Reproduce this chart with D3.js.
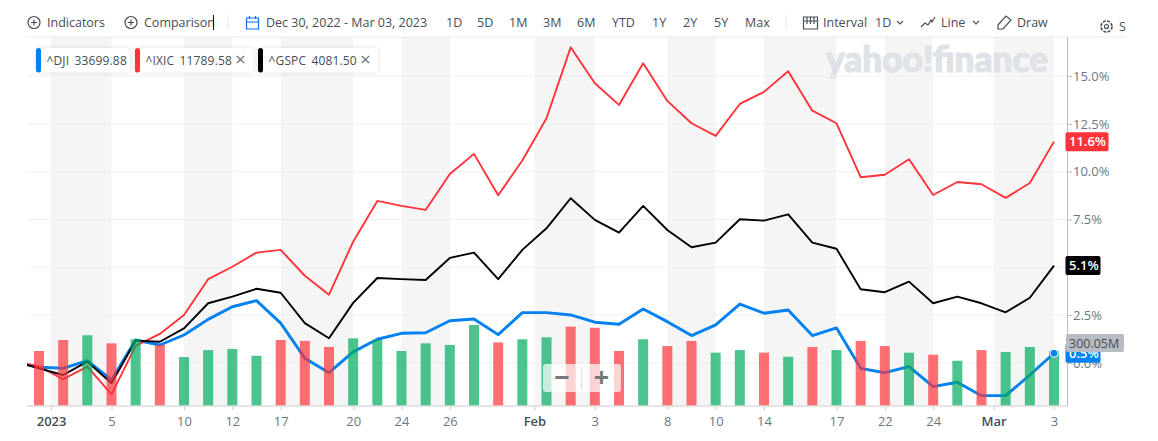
<!DOCTYPE html>
<html>
<head>
<meta charset="utf-8">
<script src="https://cdn.jsdelivr.net/npm/d3@7.9.0/dist/d3.min.js"></script>
<style>
  html, body { margin: 0; background: #fff; overflow: hidden; }
  svg { display: block; font-family: "Open Sans", "Noto Sans", sans-serif; }
  .tool { font-size: 12.5px; fill: #464e56; }
  .icon { fill: none; stroke: #464e56; stroke-width: 1.2; }
</style>
</head>
<body>
<svg id="chart" width="1158" height="441"></svg>
<script>
// first session (Dec 29) is only there so the lines run in from the left edge
const dates = ['2022-12-29', '2022-12-30',
  '2023-01-03', '2023-01-04', '2023-01-05', '2023-01-06', '2023-01-09', '2023-01-10', '2023-01-11', '2023-01-12', '2023-01-13',
  '2023-01-17', '2023-01-18', '2023-01-19', '2023-01-20', '2023-01-23', '2023-01-24', '2023-01-25', '2023-01-26', '2023-01-27',
  '2023-01-30', '2023-01-31', '2023-02-01', '2023-02-02', '2023-02-03', '2023-02-06', '2023-02-07', '2023-02-08', '2023-02-09',
  '2023-02-10', '2023-02-13', '2023-02-14', '2023-02-15', '2023-02-16', '2023-02-17', '2023-02-21', '2023-02-22', '2023-02-23',
  '2023-02-24', '2023-02-27', '2023-02-28', '2023-03-01', '2023-03-02', '2023-03-03'];

const dji = [0.05, -0.22, -0.28, 0.12, -0.89, 1.20, 0.94, 1.46, 2.28, 2.94, 3.26, 2.08, 0.25, -0.51, 0.58, 1.24, 1.55, 1.58,
  2.21, 2.30, 1.48, 2.63, 2.63, 2.51, 2.13, 2.02, 2.82, 2.16, 1.43, 1.99, 3.08, 2.60, 2.77, 1.43, 1.83, -0.28, -0.51, -0.19,
  -1.24, -1.01, -1.71, -1.71, -0.63, 0.51];
const ixic = [0.08, -0.18, -0.85, -0.19, -1.64, 0.89, 1.52, 2.51, 4.38, 5.03, 5.77, 5.91, 4.56, 3.57, 6.34, 8.47, 8.21, 8.00,
  9.88, 10.93, 8.77, 10.58, 12.79, 16.50, 14.62, 13.49, 15.67, 13.70, 12.53, 11.87, 13.54, 14.17, 15.25, 13.19, 12.53, 9.71,
  9.84, 10.65, 8.78, 9.46, 9.34, 8.63, 9.41, 11.57];
const gspc = [0.07, -0.28, -0.63, 0.07, -1.06, 1.17, 1.11, 1.81, 3.12, 3.47, 3.88, 3.67, 2.08, 1.29, 3.14, 4.44, 4.38, 4.34,
  5.49, 5.77, 4.38, 5.91, 7.04, 8.61, 7.48, 6.81, 8.21, 6.95, 6.05, 6.29, 7.51, 7.44, 7.77, 6.29, 5.97, 3.85, 3.70, 4.25,
  3.12, 3.47, 3.12, 2.65, 3.41, 5.09];

// volume in millions, null where no bar is shown
const volume = [null, 300, 360, 386, 342, 364, 333, 267, 305, 311, 274, 360, 355, 322, 369, 360, 300, 342, 333, 442, 347, 364,
  375, 433, 427, 300, 364, 327, 355, 291, 305, 291, 269, 322, 305, 355, 327, 291, 280, 247, 305, 295, 322, 300.05];
const volumeDown = [0, 1, 1, 0, 1, 0, 1, 0, 0, 0, 0, 1, 1, 1, 0, 0, 0, 0, 0, 0, 1, 0, 0, 1, 1, 1, 0, 1, 1, 0, 0, 1, 0, 1, 0, 1,
  1, 0, 1, 0, 1, 0, 0, 0];

const tickLabels = ['2023', '5', '10', '12', '17', '20', '24', '26', 'Feb', '3', '8', '10', '14', '17', '22', '24', 'Mar', '3'];
const tickDates = ['2023-01-03', '2023-01-05', '2023-01-10', '2023-01-12', '2023-01-17', '2023-01-20', '2023-01-24', '2023-01-26',
  '2023-02-01', '2023-02-03', '2023-02-08', '2023-02-10', '2023-02-14', '2023-02-17', '2023-02-22', '2023-02-24', '2023-03-01', '2023-03-03'];
const majorTicks = ['2023', 'Feb', 'Mar'];
const yTicks = [0, 2.5, 5, 7.5, 10, 12.5, 15];

const chips = [
  { name: '^DJI', value: '33699.88', color: '#0081f2', x: 36, w: 94, close: false },
  { name: '^IXIC', value: '11789.58', color: '#ff333a', x: 135, w: 118, close: true },
  { name: '^GSPC', value: '4081.50', color: '#000', x: 258, w: 120, close: true },
];

const toolItems = [
  ['Indicators', 47], ['Comparison', 144], ['Dec 30, 2022 - Mar 03, 2023', 266], ['1D', 446], ['5D', 477], ['1M', 509], ['3M', 543],
  ['6M', 577], ['YTD', 612], ['1Y', 652], ['2Y', 683], ['5Y', 714], ['Max', 745], ['Interval', 823], ['1D', 875], ['Line', 941], ['Draw', 1017],
];

const plotLeft = 27, plotRight = 1067, plotTop = 37, plotBottom = 406;

const svg = d3.select('#chart');
const x = d3.scaleLinear().domain([0, dates.length - 1]).range([14.83, 1054]);
const y = d3.scaleLinear().domain([-2.25, 17.04]).range([plotBottom, plotTop]);
const yVol = d3.scaleLinear().domain([0, 300.05]).range([plotBottom, 351]);

// month and year ticks sit between two sessions
const tickIndex = tickLabels.map((label, i) => dates.indexOf(tickDates[i]) - (majorTicks.includes(label) ? 0.5 : 0));

svg.append('defs').append('clipPath').attr('id', 'plot')
  .append('rect').attr('x', plotLeft).attr('y', plotTop).attr('width', plotRight - plotLeft).attr('height', plotBottom - plotTop);

// alternating bands between tick pairs
svg.append('g').selectAll('rect')
  .data(d3.range(0, tickIndex.length, 2))
  .join('rect')
  .attr('x', (i) => x(tickIndex[i]))
  .attr('y', plotTop)
  .attr('width', (i) => x(tickIndex[i + 1]) - x(tickIndex[i]))
  .attr('height', plotBottom - plotTop)
  .attr('fill', '#f5f5f5');

// watermark
svg.append('text')
  .attr('x', 826).attr('y', 72)
  .attr('textLength', 222).attr('lengthAdjust', 'spacingAndGlyphs')
  .attr('font-family', 'Lato, "Open Sans", sans-serif')
  .attr('font-weight', 900).attr('font-size', 36)
  .attr('fill', '#dfe2e6').attr('stroke', '#dfe2e6').attr('stroke-width', 1.2)
  .text('yahoo!finance');

svg.append('g').selectAll('line')
  .data(yTicks)
  .join('line')
  .attr('x1', plotLeft).attr('x2', plotRight)
  .attr('y1', (d) => y(d)).attr('y2', (d) => y(d))
  .attr('stroke', '#f0f0f0');

svg.append('line').attr('x1', 27).attr('x2', 1126).attr('y1', plotTop).attr('y2', plotTop).attr('stroke', '#e8eaed');

const lineGen = d3.line().x((d, i) => x(i)).y((d) => y(d));
const lines = svg.append('g').attr('clip-path', 'url(#plot)').attr('fill', 'none').attr('stroke-linejoin', 'round');
lines.append('path').datum(dji).attr('d', lineGen).attr('stroke', '#0081f2').attr('stroke-width', 2.9);
lines.append('path').datum(ixic).attr('d', lineGen).attr('stroke', '#ff333a').attr('stroke-width', 1.9);
lines.append('path').datum(gspc).attr('d', lineGen).attr('stroke', '#000').attr('stroke-width', 1.9);

// volume sits on top of the lines
const barData = volume.map((v, i) => ({ v, i })).filter((d) => d.v !== null);
svg.append('g').selectAll('rect')
  .data(barData)
  .join('rect')
  .attr('x', (d) => x(d.i) - 5)
  .attr('y', (d) => yVol(d.v))
  .attr('width', 10)
  .attr('height', (d) => plotBottom - yVol(d.v))
  .attr('fill', (d) => (volumeDown[d.i] ? '#ff333a' : '#00ab5e'))
  .attr('opacity', 0.7);

// axes
const xAxis = svg.append('g')
  .attr('transform', `translate(0,${plotBottom})`)
  .call(d3.axisBottom(x).tickValues(tickIndex).tickSize(4).tickPadding(7)
    .tickFormat((d) => tickLabels[tickIndex.indexOf(d)]));
xAxis.select('.domain').remove();
xAxis.selectAll('line').attr('stroke', '#c8ccd1');
xAxis.selectAll('text')
  .attr('font-size', 13)
  .attr('font-family', '"Open Sans", sans-serif')
  .attr('fill', (d) => (majorTicks.includes(tickLabels[tickIndex.indexOf(d)]) ? '#464e56' : '#6e7780'))
  .attr('font-weight', (d) => (majorTicks.includes(tickLabels[tickIndex.indexOf(d)]) ? 600 : 400));
svg.append('line').attr('x1', plotLeft).attr('x2', plotRight).attr('y1', plotBottom).attr('y2', plotBottom).attr('stroke', '#dcdcdc').attr('stroke-width', 1.5);

// the 5.0% label is covered by the ^GSPC value label in the reference
const yAxis = svg.append('g')
  .attr('transform', `translate(${plotRight},0)`)
  .call(d3.axisRight(y).tickValues(yTicks).tickSize(5).tickPadding(1).tickSizeOuter(0)
    .tickFormat((d) => (d === 5 ? '' : d.toFixed(1) + '%')));
yAxis.select('.domain').attr('stroke', '#bdbdbd');
yAxis.selectAll('line').attr('stroke', '#bdbdbd');
yAxis.selectAll('text').attr('font-size', 13).attr('font-family', '"Open Sans", sans-serif').attr('fill', '#6e7780');

// last value labels
function valueLabel(value, w, fill, textFill, text) {
  const cy = y(value);
  svg.append('rect').attr('x', 1065.5).attr('y', cy - 9.5).attr('width', w).attr('height', 19).attr('rx', 2).attr('fill', fill);
  svg.append('text').attr('x', 1069).attr('y', cy + 4.5).attr('font-size', 13).attr('font-weight', 600).attr('fill', textFill).text(text);
}
valueLabel(ixic[ixic.length - 1], 43, '#ff333a', '#fff', '11.6%');
valueLabel(gspc[gspc.length - 1], 35, '#000', '#fff', '5.1%');
valueLabel(dji[dji.length - 1], 35, '#0081f2', '#fff', '0.5%');

svg.append('rect').attr('x', 1066).attr('y', 334).attr('width', 58).attr('height', 18).attr('rx', 2).attr('fill', '#b7bbc2');
svg.append('text').attr('x', 1069).attr('y', 348).attr('font-size', 12.5).attr('fill', '#464e56').text('300.05M');

svg.append('circle')
  .attr('cx', x(dates.length - 1)).attr('cy', y(dji[dji.length - 1])).attr('r', 4)
  .attr('fill', '#0081f2').attr('stroke', '#fff');

// zoom control
const zoomBox = svg.append('g');
zoomBox.append('rect').attr('x', 543).attr('y', 364).attr('width', 78).attr('height', 28).attr('rx', 3).attr('fill', '#fff').attr('opacity', 0.7);
zoomBox.append('line').attr('x1', 581.5).attr('x2', 581.5).attr('y1', 367).attr('y2', 389).attr('stroke', '#ddd');
zoomBox.selectAll('text')
  .data([['\u2212', 562], ['+', 601.5]])
  .join('text')
  .attr('x', (d) => d[1]).attr('y', 387)
  .attr('text-anchor', 'middle')
  .attr('font-size', 27).attr('font-weight', 700).attr('fill', '#77797c')
  .text((d) => d[0]);

// comparison chips
const chip = svg.append('g').selectAll('g').data(chips).join('g').attr('transform', (d) => `translate(${d.x},48)`);
chip.append('rect').attr('width', (d) => d.w).attr('height', 24.5).attr('rx', 3).attr('fill', '#fff')
  .style('filter', 'drop-shadow(0 0 2px rgba(0,0,0,0.12))');
chip.append('rect').attr('width', 5).attr('height', 24.5).attr('rx', 2.5).attr('fill', (d) => d.color);
chip.append('text').attr('x', 10.5).attr('y', 16.5).attr('font-size', 12).attr('word-spacing', 2)
  .attr('letter-spacing', 0.15).attr('fill', '#464e56').text((d) => `${d.name} ${d.value}`);
chip.filter((d) => d.close).append('text')
  .attr('x', (d) => d.w - 18).attr('y', 18).attr('font-size', 19).attr('fill', '#6e7780').text('\u00d7');

// toolbar
const bar = svg.append('g');
bar.selectAll('text').data(toolItems).join('text').attr('class', 'tool').attr('x', (d) => d[1]).attr('y', 27).text((d) => d[0]);

function plusCircle(cx) {
  bar.append('circle').attr('class', 'icon').attr('cx', cx).attr('cy', 22.5).attr('r', 6);
  bar.append('path').attr('class', 'icon').attr('d', `M${cx - 3},22.5h6M${cx},19.5v6`);
}
plusCircle(34);
plusCircle(131);
bar.append('line').attr('x1', 213.5).attr('x2', 213.5).attr('y1', 15).attr('y2', 30).attr('stroke', '#111');
bar.append('line').attr('x1', 228).attr('x2', 228).attr('y1', 15).attr('y2', 30).attr('stroke', '#e6e8eb');
bar.append('line').attr('x1', 786).attr('x2', 786).attr('y1', 15).attr('y2', 30).attr('stroke', '#e6e8eb');
bar.append('path').attr('class', 'icon').style('stroke', '#0f69ff')
  .attr('d', 'M246.5,18h12v11h-12zM246.5,22h12M249.5,16v3M255.5,16v3');
bar.append('path').attr('class', 'icon').attr('d', 'M803.5,17h14v12h-14zM803.5,21h14M807,17v7M810.5,17v7M814,17v7');
bar.append('path').attr('class', 'icon').attr('d', 'M921,27l4,-4l3,2l3,-5l1,2l3,-5');
bar.append('path').attr('class', 'icon').attr('d', 'M897,21l3,3l3,-3M973,21l3,3l3,-3');
bar.append('path').attr('class', 'icon').attr('d', 'M998,25l8,-9l5,4l-8,9l-5,0z');
bar.append('circle').attr('class', 'icon').attr('cx', 1106.5).attr('cy', 26.5).attr('r', 2);
bar.append('circle').attr('class', 'icon').attr('cx', 1106.5).attr('cy', 26.5).attr('r', 5.5).attr('stroke-dasharray', '3 1.3').style('stroke-width', 1.6);
bar.append('text').attr('class', 'tool').attr('x', 1119).attr('y', 31).text('S');
</script>
</body>
</html>
